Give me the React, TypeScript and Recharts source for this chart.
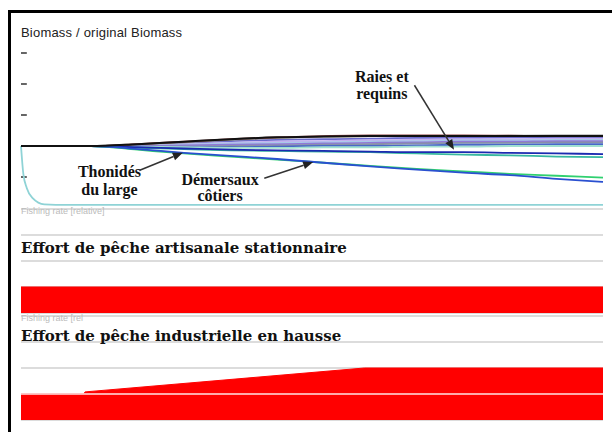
import {
    LineChart,
    Line,
    AreaChart,
    Area,
    XAxis,
    YAxis,
    CartesianGrid,
    ReferenceLine,
    ReferenceDot,
} from 'recharts';

// simulation years (x axis of every panel)
const years = [0, 0.2, 0.5, 1, 2, 4, 6, 10, 14, 18, 22, 26, 30, 34, 38, 42, 46, 50];

// biomass / original biomass, one list per group
const cyanGroup = [1, 0.55, 0.32, 0.16, 0.06, 0.05, 0.05, 0.05, 0.05, 0.05, 0.05, 0.05, 0.05, 0.05, 0.05, 0.05, 0.05, 0.05];
const blackGroup = [1, 1, 1, 1, 1, 1, 1, 1.03, 1.07, 1.11, 1.14, 1.155, 1.16, 1.16, 1.16, 1.16, 1.16, 1.16];
const brownGroup = [1, 1, 1, 1, 1, 1, 1, 1.03, 1.07, 1.11, 1.14, 1.16, 1.17, 1.17, 1.17, 1.165, 1.16, 1.16];
const grayGroup = [1, 1, 1, 1, 1, 1, 1, 1.03, 1.06, 1.1, 1.13, 1.15, 1.16, 1.16, 1.16, 1.165, 1.17, 1.17];
const slateGroup = [1, 1, 1, 1, 1, 1, 1, 1.02, 1.05, 1.08, 1.1, 1.11, 1.12, 1.13, 1.13, 1.14, 1.14, 1.14];
const lavenderGroup = [1, 1, 1, 1, 1, 1, 1, 1.01, 1.03, 1.05, 1.07, 1.08, 1.09, 1.1, 1.11, 1.11, 1.12, 1.12];
const skyGroup = [1, 1, 1, 1, 1, 1, 1, 1, 1.02, 1.04, 1.05, 1.06, 1.07, 1.08, 1.09, 1.09, 1.1, 1.1];
const violetGroup = [1, 1, 1, 1, 1, 1, 1, 1, 1.01, 1.02, 1.03, 1.04, 1.05, 1.06, 1.07, 1.07, 1.08, 1.08];
const steelGroup = [1, 1, 1, 1, 1, 1, 1, 0.99, 0.99, 1, 1.01, 1.02, 1.03, 1.04, 1.05, 1.05, 1.06, 1.06];
const blueGroup = [1, 1, 1, 1, 1, 1, 1, 0.99, 0.98, 0.98, 0.99, 1, 1, 1.01, 1.02, 1.02, 1.03, 1.03];
const paleTealGroup = [1, 1, 1, 1, 1, 1, 1, 0.99, 0.98, 0.97, 0.97, 0.98, 0.98, 0.99, 0.99, 1, 1, 1];
const raiesBlue = [1, 1, 1, 1, 1, 1, 1, 0.98, 0.96, 0.94, 0.93, 0.92, 0.91, 0.9, 0.9, 0.89, 0.88, 0.87];
const raiesTeal = [1, 1, 1, 1, 1, 1, 1, 0.97, 0.95, 0.93, 0.92, 0.91, 0.9, 0.88, 0.86, 0.85, 0.83, 0.82];
const demersauxGreen = [1, 1, 1, 1, 1, 1, 1, 0.94, 0.88, 0.83, 0.78, 0.73, 0.68, 0.63, 0.59, 0.55, 0.52, 0.49];
const demersauxBlue = [1, 1, 1, 1, 1, 1, 1, 0.95, 0.89, 0.84, 0.79, 0.73, 0.67, 0.62, 0.57, 0.53, 0.47, 0.42];

const biomassTicks = [0.5, 1.5, 2, 2.5];
const tickDashYears = 0.5; // dash length, in years

// fishing effort panels
const artisanalYears = [0, 50];
const artisanalEffort = [1, 1];
const industrialYears = [0, 5.4, 5.5, 29.5, 50];
const industrialEffort = [1, 1, 1.08, 2, 2];
const effortTicks = [1, 2, 3];

// annotations (data coordinates of the upper panel)
const labels = [
    { lines: ['Thonidés', 'du large'], year: 7.6, value: 0.5, gap: 18 },
    { lines: ['Démersaux', 'côtiers'], year: 17.1, value: 0.37, gap: 16 },
    { lines: ['Raies et', 'requins'], year: 31, value: 2.03, gap: 17 },
];
const arrows = [
    { from: [10.2, 0.61], to: [13.9, 0.89] },
    { from: [20.9, 0.48], to: [25.1, 0.74] },
    { from: [33.8, 1.98], to: [37.2, 0.94] },
];

const series = [
    { key: 'slate', data: slateGroup, color: '#6a6acd' },
    { key: 'lavender', data: lavenderGroup, color: '#c4b0f0' },
    { key: 'sky', data: skyGroup, color: '#a8c8e8' },
    { key: 'violet', data: violetGroup, color: '#9078d8' },
    { key: 'steel', data: steelGroup, color: '#8890a8' },
    { key: 'blue', data: blueGroup, color: '#4868c8' },
    { key: 'paleTeal', data: paleTealGroup, color: '#a0e0d0' },
    { key: 'gray', data: grayGroup, color: '#909090' },
    { key: 'brown', data: brownGroup, color: '#8b4040' },
    { key: 'raiesTeal', data: raiesTeal, color: '#38b8a0' },
    { key: 'raiesBlue', data: raiesBlue, color: '#1c2ab0' },
    { key: 'demGreen', data: demersauxGreen, color: '#30d070' },
    { key: 'demBlue', data: demersauxBlue, color: '#2a50d0' },
    { key: 'cyan', data: cyanGroup, color: '#8fd3d6' },
    { key: 'black', data: blackGroup, color: '#111111' },
];

const biomassRows = years.map((year, i) => {
    const row: Record<string, number> = { year };
    series.forEach(s => {
        row[s.key] = s.data[i];
    });
    return row;
});
const artisanalRows = artisanalYears.map((year, i) => ({ year, effort: artisanalEffort[i] }));
const industrialRows = industrialYears.map((year, i) => ({ year, effort: industrialEffort[i] }));

const ArrowShape = (props: any) => {
    const { x1, y1, x2, y2 } = props;
    const ang = Math.atan2(y2 - y1, x2 - x1);
    const len = 10;
    const half = 4;
    const bx = x2 - len * Math.cos(ang);
    const by = y2 - len * Math.sin(ang);
    const p1 = `${bx + half * Math.sin(ang)},${by - half * Math.cos(ang)}`;
    const p2 = `${bx - half * Math.sin(ang)},${by + half * Math.cos(ang)}`;
    return (
        <g>
            <line x1={x1} y1={y1} x2={bx} y2={by} stroke="#333" strokeWidth={1.5} />
            <polygon points={`${x2},${y2} ${p1} ${p2}`} fill="#222" />
        </g>
    );
};

const labelShape = (lines: string[], gap: number) => (p: any) => (
    <text
        x={p.cx}
        y={p.cy}
        textAnchor="middle"
        fontFamily="Liberation Serif"
        fontWeight="bold"
        fontSize={16}
        fill="#111"
    >
        {lines.map((l, i) => (
            <tspan key={i} x={p.cx} dy={i === 0 ? 0 : gap}>{l}</tspan>
        ))}
    </text>
);

const abs = { position: 'absolute' as const, left: 0, top: 0 };
const W = 612;
const H = 432;

const App = () => {
    return (
        <div style={{ position: 'absolute', left: 0, top: 0, width: W, height: H, background: '#fff', overflow: 'hidden' }}>
            {/* artisanal effort panel */}
            <div style={abs}>
                <AreaChart width={W} height={H} data={artisanalRows} margin={{ top: 209, right: 9, bottom: 119, left: 21 }}>
                    <CartesianGrid vertical={false} stroke="#dcdcdc" strokeWidth={2} />
                    <XAxis dataKey="year" type="number" domain={[0, 50]} hide />
                    <YAxis domain={[0, 4]} ticks={effortTicks} hide />
                    <Area dataKey="effort" type="linear" fill="#ff0000" fillOpacity={1} stroke="#f00" isAnimationActive={false} />
                </AreaChart>
            </div>
            {/* industrial effort panel */}
            <div style={abs}>
                <AreaChart width={W} height={H} data={industrialRows} margin={{ top: 316, right: 9, bottom: 12, left: 21 }}>
                    <CartesianGrid vertical={false} stroke="#dcdcdc" strokeWidth={2} />
                    <XAxis dataKey="year" type="number" domain={[0, 50]} hide />
                    <YAxis domain={[0, 4]} ticks={effortTicks} hide />
                    <Area dataKey="effort" type="linear" fill="#ff0000" fillOpacity={1} stroke="#f00" isAnimationActive={false} />
                    <ReferenceLine y={1} stroke="#ffe4e4" strokeWidth={1.5} />
                </AreaChart>
            </div>
            {/* biomass panel */}
            <div style={abs}>
                <LineChart width={W} height={215} data={biomassRows} margin={{ top: 22, right: 9, bottom: 7, left: 21 }}>
                    <XAxis dataKey="year" type="number" domain={[0, 50]} hide />
                    <YAxis domain={[0, 3]} hide />
                    {biomassTicks.map(v => (
                        <ReferenceLine
                            key={`tick-${v}`}
                            segment={[{ x: 0, y: v }, { x: tickDashYears, y: v }]}
                            stroke="#333"
                            strokeWidth={1.5}
                        />
                    ))}
                    {series.map(s => (
                        <Line
                            key={s.key}
                            dataKey={s.key}
                            type="monotone"
                            stroke={s.color}
                            strokeWidth={s.key === 'black' ? 2 : 1.8}
                            dot={false}
                            isAnimationActive={false}
                        />
                    ))}
                    {arrows.map((a, i) => (
                        <ReferenceLine
                            key={`arrow-${i}`}
                            segment={[{ x: a.from[0], y: a.from[1] }, { x: a.to[0], y: a.to[1] }]}
                            shape={ArrowShape}
                        />
                    ))}
                    {labels.map((l, i) => (
                        <ReferenceDot
                            key={`label-${i}`}
                            x={l.year}
                            y={l.value}
                            shape={labelShape(l.lines, l.gap)}
                        />
                    ))}
                </LineChart>
            </div>
            {/* texts */}
            <svg width={W} height={H} style={{ ...abs, pointerEvents: 'none' }}>
                <text x={21} y={37} fontFamily="'Liberation Sans', Arial, sans-serif" fontSize={13} letterSpacing={0.2} fill="#222">
                    Biomass / original Biomass
                </text>
                <text x={21} y={214} fontFamily="'Liberation Sans', Arial, sans-serif" fontSize={9} fill="#bbb">
                    Fishing rate [relative]
                </text>
                <text x={21} y={253} fontFamily="'DejaVu Serif', serif" fontWeight="bold" fontSize={15} fill="#111">
                    Effort de pêche artisanale stationnaire
                </text>
                <text x={21} y={321} fontFamily="'Liberation Sans', Arial, sans-serif" fontSize={9} fill="#bbb">
                    Fishing rate [rel
                </text>
                <text x={21} y={341} fontFamily="'DejaVu Serif', serif" fontWeight="bold" fontSize={15} fill="#111">
                    Effort de pêche industrielle en hausse
                </text>
            </svg>
            {/* frame */}
            <div style={{ position: 'absolute', left: 8, top: 10, width: W - 8, height: 3, background: '#000' }} />
            <div style={{ position: 'absolute', left: 8, top: 10, width: 3, height: H - 10, background: '#000' }} />
        </div>
    );
};

export default App;
